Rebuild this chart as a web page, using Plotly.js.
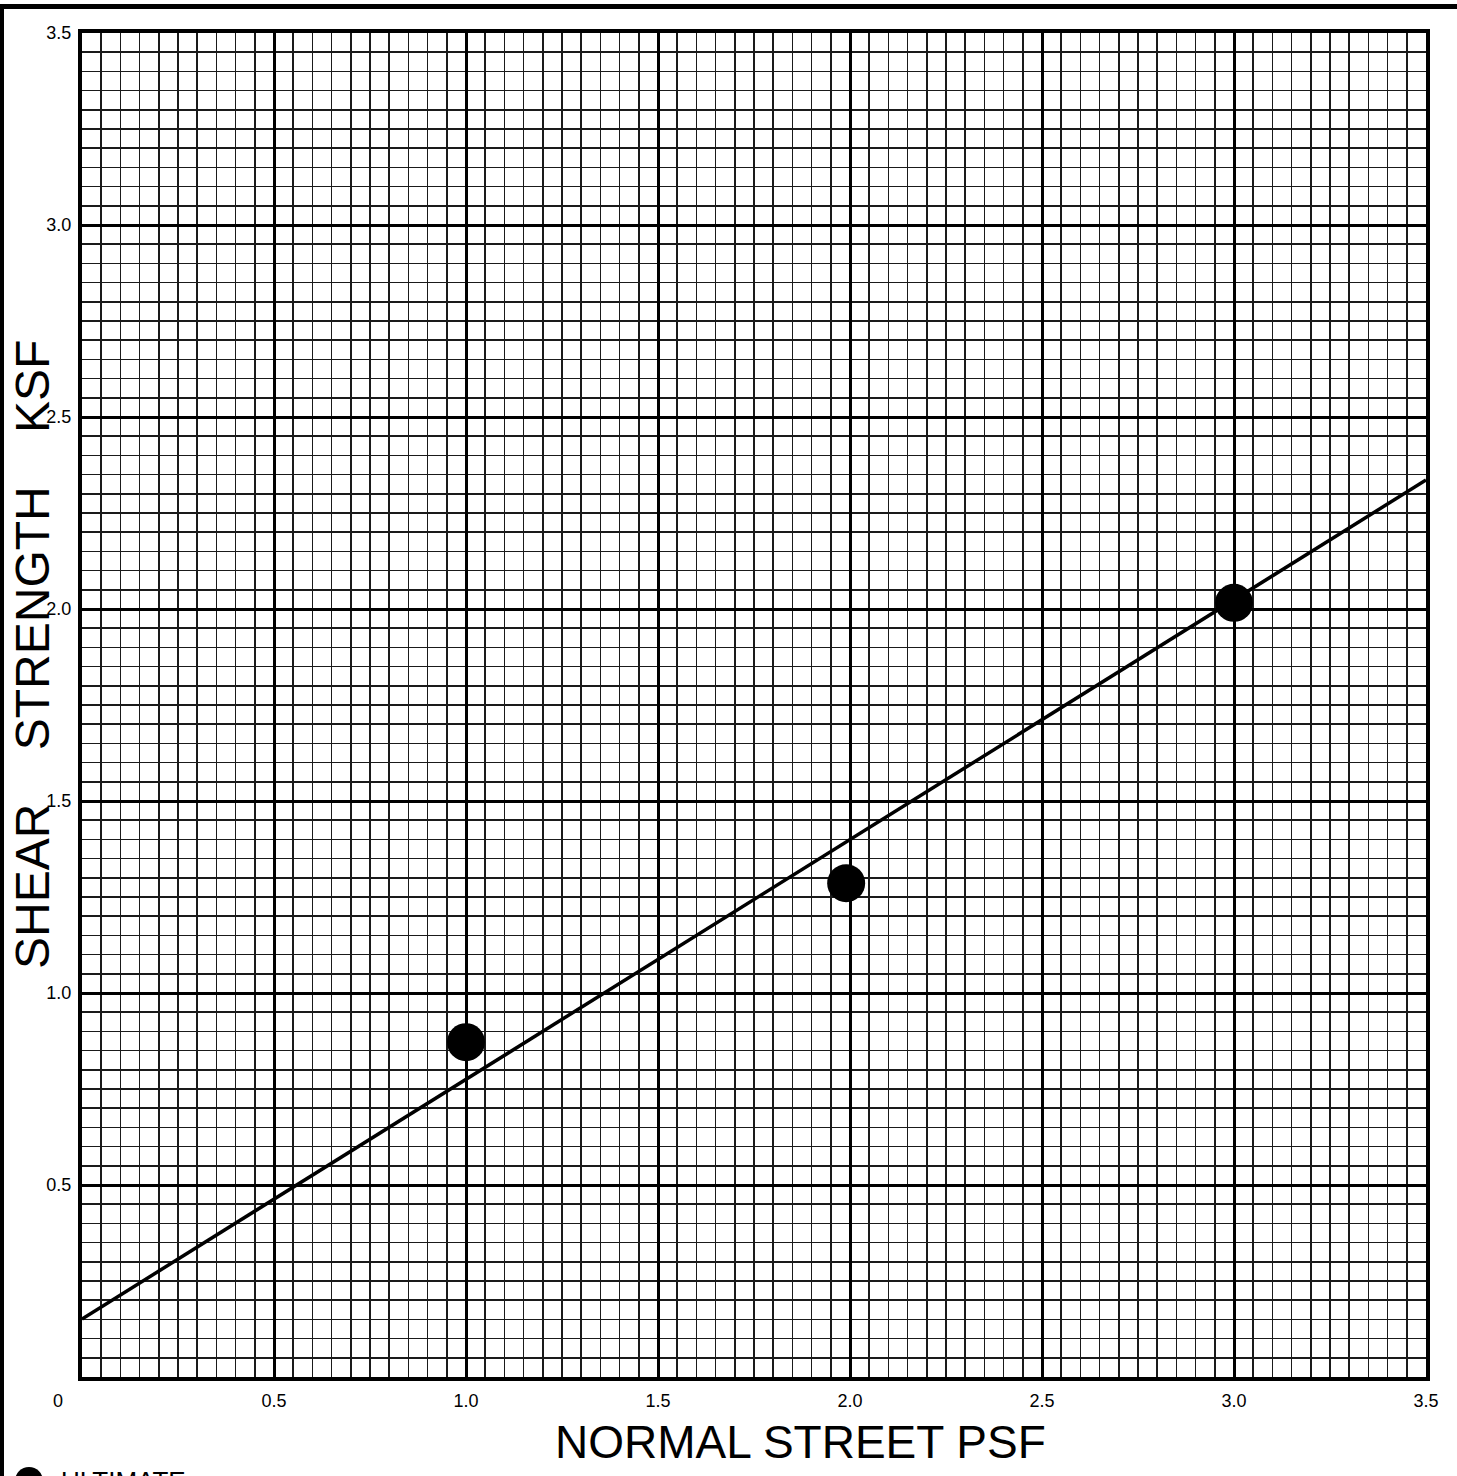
<!DOCTYPE html>
<html>
<head>
<meta charset="utf-8">
<script src="https://cdn.plot.ly/plotly-3.0.1.min.js"></script>
<style>
  html, body { margin: 0; padding: 0; background: #fff; }
  #chart { width: 1457px; height: 1476px; }
</style>
</head>
<body>
<div id="chart"></div>
<script>
// Data
const normalStress = [1.0, 1.99, 3.0];        // x of test points
const shearStrength = [0.872, 1.286, 2.016];  // y of test points
const fitX = [0, 3.5];                          // failure envelope
const fitY = [0.151, 2.336];
const xTickVals = [0.5, 1.0, 1.5, 2.0, 2.5, 3.0, 3.5];
const xTickText = ['0.5', '1.0', '1.5', '2.0', '2.5', '3.0', '3.5'];
const yTickVals = [0.5, 1.0, 1.5, 2.0, 2.5, 3.0, 3.5];
const yTickText = ['0.5', '1.0', '1.5', '2.0', '2.5', '3.0', '3.5'];
const xTitle = 'NORMAL STREET PSF';
const yTitle = 'SHEAR&nbsp;&nbsp;&nbsp;&nbsp;STRENGTH&nbsp;&nbsp;&nbsp;&nbsp;KSF';
const legendLabel = 'ULTIMATE';

const W = 1457, H = 1476;
const L = 82, R = 31, T = 33, B = 99;
const PW = W - L - R, PH = H - T - B;
const px2x = p => (p - L) / PW;
const px2y = p => 1 - (p - T) / PH;

const font = '"Liberation Sans", Arial, Helvetica, sans-serif';

const traces = [
  {
    x: fitX, y: fitY, mode: 'lines', type: 'scatter',
    line: { color: '#000', width: 3.5 },
    showlegend: false, hoverinfo: 'skip'
  },
  {
    x: normalStress, y: shearStrength, mode: 'markers', type: 'scatter',
    name: legendLabel,
    marker: { color: '#000', size: 38 },
    showlegend: false
  }
];

const axisCommon = {
  range: [0, 3.5],
  dtick: 0.5,
  showgrid: true,
  gridcolor: '#000',
  gridwidth: 3,
  minor: { dtick: 0.05, showgrid: true, gridcolor: '#1a1a1a', gridwidth: 1.5 },
  showline: true, linecolor: '#000', linewidth: 4, mirror: true,
  zeroline: false,
  ticks: '',
  tickmode: 'array',
  tickfont: { family: font, size: 18, color: '#000' },
  fixedrange: true
};

const layout = {
  width: W, height: H,
  margin: { l: L, r: R, t: T, b: B, pad: 0 },
  paper_bgcolor: '#fff', plot_bgcolor: '#fff',
  showlegend: false,
  xaxis: Object.assign({}, axisCommon, {
    tickvals: xTickVals, ticktext: xTickText, ticklabelstandoff: 4
  }),
  yaxis: Object.assign({}, axisCommon, {
    tickvals: yTickVals, ticktext: yTickText, ticklabelstandoff: 3
  }),
  annotations: [
    { text: '0', xref: 'x', yref: 'paper', x: 0, y: px2y(1401), xshift: -24,
      xanchor: 'center', yanchor: 'middle', showarrow: false,
      font: { family: font, size: 18, color: '#000' } },
    { text: xTitle, xref: 'paper', yref: 'paper', x: px2x(800), y: px2y(1442),
      xanchor: 'center', yanchor: 'middle', showarrow: false,
      font: { family: font, size: 46, color: '#000' } },
    { text: yTitle, xref: 'paper', yref: 'paper', x: px2x(32), y: px2y(655),
      xanchor: 'center', yanchor: 'middle', textangle: -90, showarrow: false,
      font: { family: font, size: 48, color: '#000' } },
    { text: legendLabel, xref: 'paper', yref: 'paper', x: px2x(59), y: px2y(1464),
      xanchor: 'left', yanchor: 'top', showarrow: false,
      font: { family: font, size: 26, color: '#000' } }
  ],
  shapes: [
    // outer drawing frame
    { type: 'line', xref: 'paper', yref: 'paper', x0: px2x(0), x1: px2x(W), y0: px2y(6.5), y1: px2y(6.5),
      line: { color: '#000', width: 5 } },
    { type: 'line', xref: 'paper', yref: 'paper', x0: px2x(2), x1: px2x(2), y0: px2y(4), y1: px2y(H + 5),
      line: { color: '#000', width: 4 } },
    // legend key
    { type: 'circle', xref: 'paper', yref: 'paper', x0: px2x(15), x1: px2x(43), y0: px2y(1467), y1: px2y(1495),
      fillcolor: '#000', line: { color: '#000', width: 0 } }
  ]
};

Plotly.newPlot('chart', traces, layout, { displayModeBar: false, staticPlot: true });
</script>
</body>
</html>
